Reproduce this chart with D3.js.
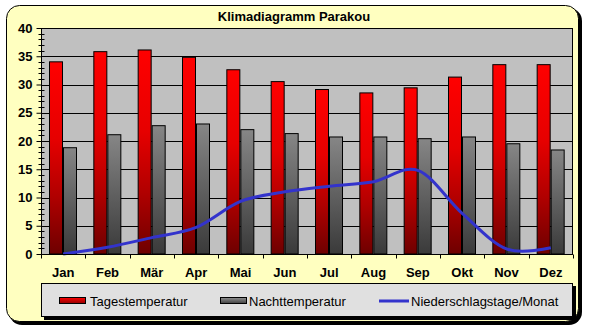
<!DOCTYPE html>
<html><head><meta charset="utf-8">
<script src="https://cdn.jsdelivr.net/npm/d3@7"></script>
<style>html,body{margin:0;padding:0;background:#fff;}svg{display:block;}</style>
</head><body>
<svg id="c" width="589" height="330"></svg>
<script>
const months = ["Jan","Feb","Mär","Apr","Mai","Jun","Jul","Aug","Sep","Okt","Nov","Dez"];
const tagTemp = [34.1,35.9,36.2,34.9,32.7,30.6,29.2,28.6,29.5,31.4,33.6,33.6];
const nachtTemp = [18.9,21.2,22.8,23.1,22.1,21.4,20.8,20.8,20.5,20.8,19.6,18.5];
const niederschlag = [0,1.2,2.9,4.7,9.3,11.0,12.0,12.8,14.8,7.2,0.9,1.1];
const yTicks = [0,5,10,15,20,25,30,35,40];
const seriesNames = ["Tagestemperatur","Nachttemperatur","Niederschlagstage/Monat"];
const title = "Klimadiagramm Parakou";

const svg = d3.select("#c");
const defs = svg.append("defs");
function grad(id, stops){
  const gr = defs.append("linearGradient").attr("id",id).attr("x1",0).attr("y1",0).attr("x2",0).attr("y2",1);
  stops.forEach(s=>gr.append("stop").attr("offset",s[0]).attr("stop-color",s[1]));
}
grad("gRed", [[0,"#ff0000"],[0.4,"#e60000"],[0.7,"#b00000"],[1,"#6e0000"]]);
grad("gGray", [[0,"#868686"],[1,"#3a3a3a"]]);
grad("gRedL", [[0,"#ff0000"],[1,"#900000"]]);
grad("gGrayL", [[0,"#909090"],[1,"#404040"]]);

// outer frame with shadow
svg.append("rect").attr("x",9).attr("y",8).attr("width",573).attr("height",317).attr("rx",13).attr("fill","#000");
svg.append("rect").attr("x",6.5).attr("y",5.5).attr("width",572).attr("height",316).attr("rx",13)
  .attr("fill","#ffffc0").attr("stroke","#000").attr("stroke-width",1);

svg.append("text").attr("x",294).attr("y",21).attr("text-anchor","middle")
  .attr("font-family","Liberation Sans, Arial, sans-serif").attr("font-weight","bold").attr("font-size",13)
  .text(title);

const L = 41, R = 573, T = 28, B = 254;
const x = d3.scaleBand().domain(months).range([L,R]).paddingInner(0).paddingOuter(0);
const y = d3.scaleLinear().domain([0,40]).range([B,T]);

svg.append("rect").attr("x",L).attr("y",T).attr("width",R-L).attr("height",B-T).attr("fill","#c0c0c0");
// gridlines
svg.append("g").selectAll("line").data(yTicks).join("line")
  .attr("x1",L).attr("x2",R).attr("y1",d=>Math.round(y(d))+0.5).attr("y2",d=>Math.round(y(d))+0.5)
  .attr("stroke","#000").attr("stroke-width",1);

// bars
const bw = 14;
const g = svg.append("g");
g.selectAll("rect.r").data(tagTemp).join("rect").attr("class","r")
  .attr("x",(d,i)=>x(months[i])+8.5).attr("width",bw-1)
  .attr("y",d=>y(d)+0.5).attr("height",d=>B-y(d)-0.5)
  .attr("fill","url(#gRed)").attr("stroke","#000").attr("stroke-width",1);
g.selectAll("rect.n").data(nachtTemp).join("rect").attr("class","n")
  .attr("x",(d,i)=>x(months[i])+22.5).attr("width",bw-1)
  .attr("y",d=>y(d)+0.5).attr("height",d=>B-y(d)-0.5)
  .attr("fill","url(#gGray)").attr("stroke","#000").attr("stroke-width",1);

// plot border
svg.append("rect").attr("x",L+0.5).attr("y",T+0.5).attr("width",R-L-1).attr("height",B-T).attr("fill","none").attr("stroke","#000");

// line
const line = d3.line().x((d,i)=>x(months[i])+x.bandwidth()/2).y(d=>y(d)).curve(d3.curveCatmullRom.alpha(0));
svg.append("path").datum(niederschlag).attr("d",line).attr("fill","none").attr("stroke","#3333cc").attr("stroke-width",3);

// y axis
const yAxis = d3.axisLeft(y).tickValues(yTicks).tickSize(5).tickPadding(4);
const ya = svg.append("g").attr("transform",`translate(${L+0.5},0)`).call(yAxis);
ya.select(".domain").remove();
ya.append("line").attr("x1",0).attr("x2",0).attr("y1",T).attr("y2",B+4).attr("stroke","#000");
ya.selectAll("text").attr("font-family","Liberation Sans, Arial, sans-serif").attr("font-weight","bold").attr("font-size",13).attr("fill","#000");
// minor ticks
const minor = d3.range(0,41).filter(v=>v%5!==0);
ya.selectAll("line.minor").data(minor).join("line").attr("class","minor")
  .attr("x1",-3).attr("x2",3).attr("y1",d=>Math.round(y(d))+0.5).attr("y2",d=>Math.round(y(d))+0.5).attr("stroke","#000");

// x axis
const xa = svg.append("g").attr("transform",`translate(0,${B+0.5})`);
xa.append("line").attr("x1",L).attr("x2",R).attr("stroke","#000");
const bounds = d3.range(0,13).map(i=>L + i*x.bandwidth());
xa.selectAll("line.t").data(bounds).join("line").attr("class","t")
  .attr("x1",d=>Math.round(d)+0.5).attr("x2",d=>Math.round(d)+0.5).attr("y1",0).attr("y2",4).attr("stroke","#000");
xa.selectAll("text").data(months).join("text")
  .attr("x",d=>x(d)+x.bandwidth()/2).attr("y",22).attr("text-anchor","middle")
  .attr("font-family","Liberation Sans, Arial, sans-serif").attr("font-weight","bold").attr("font-size",13)
  .text(d=>d);

// legend
const lg = svg.append("g");
lg.append("rect").attr("x",44).attr("y",286).attr("width",532).attr("height",34).attr("fill","#000");
lg.append("rect").attr("x",41.5).attr("y",283.5).attr("width",531).attr("height",33).attr("fill","#e0e0e0").attr("stroke","#000");
const items = [
  {name:seriesNames[0], type:"bar", fill:"url(#gRedL)", x:59, tx:90},
  {name:seriesNames[1], type:"bar", fill:"url(#gGrayL)", x:220, tx:249},
  {name:seriesNames[2], type:"line", x:379, tx:411}
];
items.forEach(it=>{
  if(it.type==="bar"){
    lg.append("rect").attr("x",it.x+0.5).attr("y",297.5).attr("width",26).attr("height",6).attr("fill",it.fill).attr("stroke","#000");
  } else {
    lg.append("line").attr("x1",it.x).attr("x2",it.x+30).attr("y1",301).attr("y2",301).attr("stroke","#3333cc").attr("stroke-width",3);
  }
  lg.append("text").attr("x",it.tx).attr("y",305.5).attr("font-family","Liberation Sans, Arial, sans-serif")
    .attr("font-size",13).attr("fill","#000").text(it.name);
});
</script>
</body></html>
